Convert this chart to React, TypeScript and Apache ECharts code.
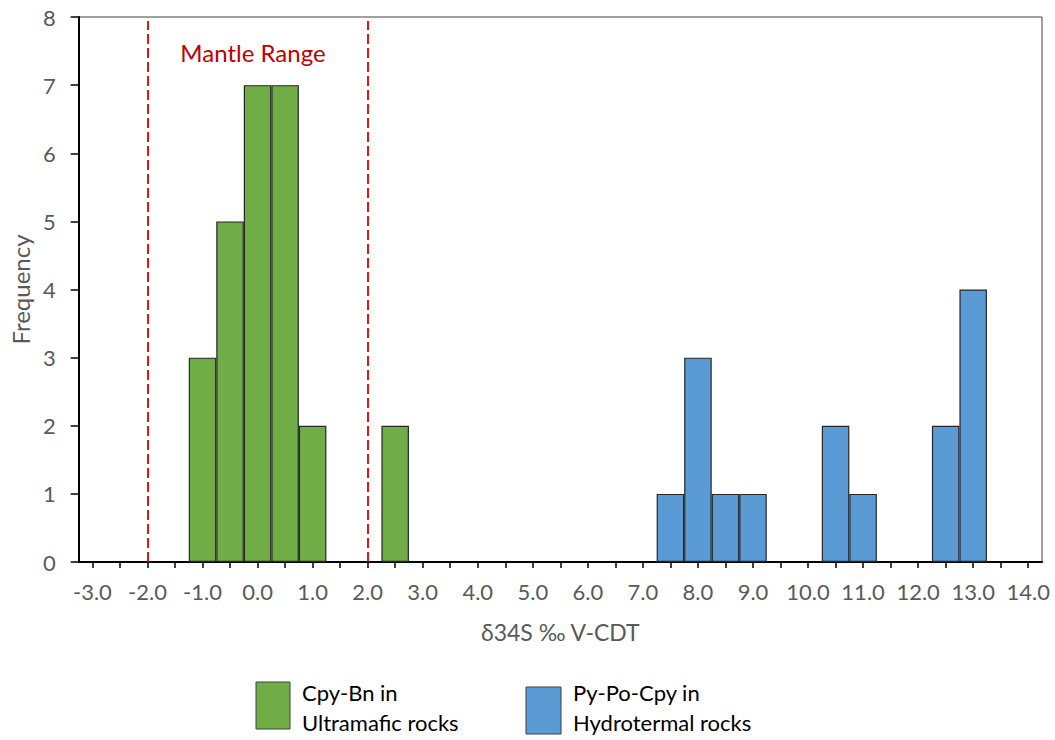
import React, { useEffect, useRef } from "react";
import * as echarts from "echarts";

// x categories (bin centres, ‰)
const categories = [
  "-3.0", "-2.5", "-2.0", "-1.5", "-1.0", "-0.5", "0.0", "0.5", "1.0", "1.5",
  "2.0", "2.5", "3.0", "3.5", "4.0", "4.5", "5.0", "5.5", "6.0", "6.5",
  "7.0", "7.5", "8.0", "8.5", "9.0", "9.5", "10.0", "10.5", "11.0", "11.5",
  "12.0", "12.5", "13.0", "13.5", "14.0",
];

const greenName = "Cpy-Bn in\nUltramafic rocks";
const greenBins = ["-1.0", "-0.5", "0.0", "0.5", "1.0", "2.5"];
const greenCounts = [3, 5, 7, 7, 2, 2];

const blueName = "Py-Po-Cpy in\nHydrotermal rocks";
const blueBins = ["7.5", "8.0", "8.5", "9.0", "10.5", "11.0", "12.5", "13.0"];
const blueCounts = [1, 3, 1, 1, 2, 1, 2, 4];

const mantleBounds = ["-2.0", "2.0"];
const mantleLabel = "Mantle Range";

const yMin = 0;
const yMax = 8;
const yInterval = 1;

const GREEN = "#70AD47";
const BLUE = "#5B9BD5";
const FONT = "Lato, 'Open Sans', sans-serif";

export default function App() {
  const ref = useRef<HTMLDivElement>(null);

  useEffect(() => {
    document.body.style.margin = "0";
    if (!ref.current) return;
    const chart = echarts.init(ref.current, null, { renderer: "svg" });

    const legendText = (x: number, text: string) => ({
      type: "text",
      x,
      y: 707,
      style: {
        text,
        fontFamily: FONT,
        fontSize: 22,
        lineHeight: 30,
        fill: "#000000",
        textVerticalAlign: "middle",
        verticalAlign: "middle",
      },
    });

    const option: any = {
      animation: false,
      backgroundColor: "#ffffff",
      textStyle: { fontFamily: FONT },
      grid: {
        left: 77,
        right: 13,
        top: 17,
        bottom: 178,
        show: true,
        borderColor: "#404040",
        borderWidth: 1,
        backgroundColor: "transparent",
      },
      legend: { show: false, data: [greenName, blueName] },
      xAxis: {
        type: "category",
        data: categories,
        boundaryGap: true,
        name: "δ34S ‰ V-CDT",
        nameLocation: "middle",
        nameGap: 58,
        nameTextStyle: { fontFamily: FONT, fontSize: 23, color: "#595959" },
        axisLine: { show: true, lineStyle: { color: "#000000", width: 2 } },
        axisTick: {
          show: true,
          alignWithLabel: true,
          interval: 0,
          length: 6,
          lineStyle: { color: "#000000", width: 1.5 },
        },
        axisLabel: {
          interval: 1,
          fontFamily: FONT,
          fontSize: 22,
          color: "#595959",
          margin: 18,
        },
        splitLine: { show: false },
      },
      yAxis: {
        type: "value",
        min: yMin,
        max: yMax,
        interval: yInterval,
        name: "Frequency",
        nameLocation: "middle",
        nameGap: 45,
        nameTextStyle: { fontFamily: FONT, fontSize: 24, color: "#595959" },
        axisLine: { show: true, lineStyle: { color: "#000000", width: 2 } },
        axisTick: {
          show: true,
          length: 8,
          lineStyle: { color: "#000000", width: 1.5 },
        },
        axisLabel: {
          fontFamily: FONT,
          fontSize: 22,
          color: "#595959",
          margin: 23,
        },
        splitLine: { show: false },
      },
      series: [
        {
          name: greenName,
          type: "bar",
          barWidth: "100%",
          barGap: "-100%",
          itemStyle: { color: GREEN, borderColor: "#262626", borderWidth: 1.2 },
          data: greenBins.map((b, i) => [b, greenCounts[i]]),
          markLine: {
            silent: true,
            symbol: "none",
            label: { show: false },
            lineStyle: { color: "#D60000", width: 1.8, type: [10, 4] },
            data: mantleBounds.map((b) => [
              { coord: [b, yMin] },
              { coord: [b, yMax - 0.06] },
            ]),
          },
        },
        {
          name: blueName,
          type: "bar",
          barWidth: "100%",
          barGap: "-100%",
          itemStyle: { color: BLUE, borderColor: "#262626", borderWidth: 1.2 },
          data: blueBins.map((b, i) => [b, blueCounts[i]]),
        },
      ],
      graphic: [
        {
          type: "text",
          x: 253,
          y: 52,
          style: {
            text: mantleLabel,
            fontFamily: FONT,
            fontSize: 24,
            fill: "#C00000",
            textAlign: "center",
            textVerticalAlign: "middle",
            align: "center",
            verticalAlign: "middle",
          },
        },
        {
          type: "rect",
          shape: { x: 256, y: 682, width: 34, height: 47 },
          style: { fill: GREEN, stroke: "#404040", lineWidth: 1 },
        },
        legendText(302, greenName),
        {
          type: "rect",
          shape: { x: 526, y: 687, width: 35, height: 47 },
          style: { fill: BLUE, stroke: "#404040", lineWidth: 1 },
        },
        legendText(573, blueName),
      ],
    };

    chart.setOption(option);
    return () => chart.dispose();
  }, []);

  return <div ref={ref} style={{ width: 1055, height: 740 }} />;
}
